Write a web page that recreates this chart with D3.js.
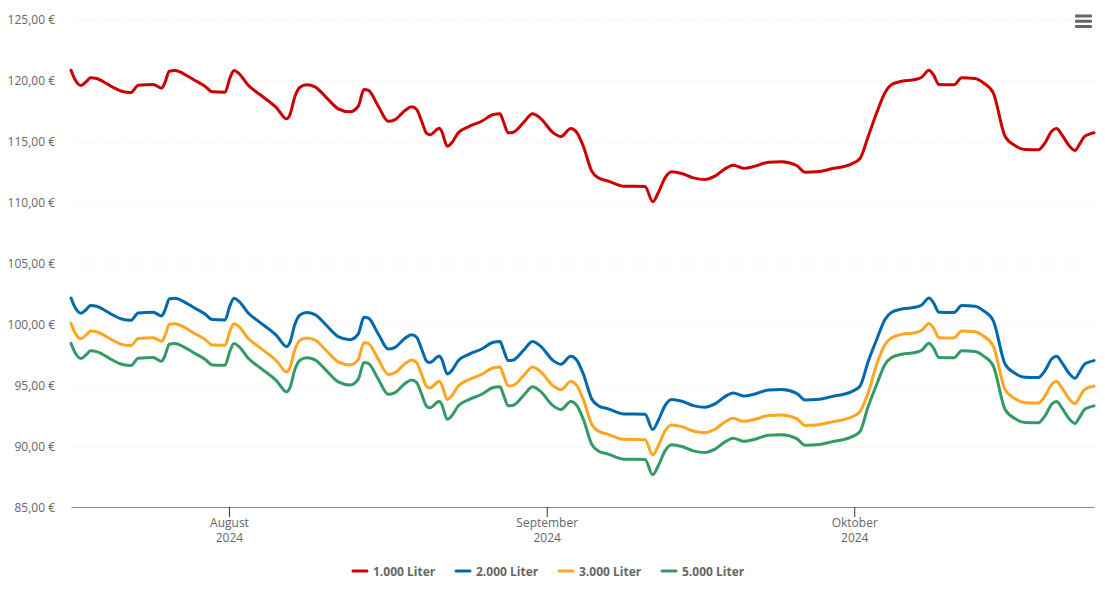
<!DOCTYPE html>
<html>
<head>
<meta charset="utf-8">
<script src="https://cdnjs.cloudflare.com/ajax/libs/d3/7.8.5/d3.min.js"></script>
<style>
  body { margin: 0; background: #fff; }
  text { font-family: "Open Sans", sans-serif; }
</style>
</head>
<body>
<div id="chart"></div>
<script>
// days counted from 1 August 2024
const daysFromAug1 = [-15.41,-15.02,-14.44,-13.88,-13.49,-12.91,-12.29,-11.32,-10.47,-9.56,-8.85,-7.39,-6.57,-6.24,-5.82,-5.27,-4.46,-3.48,-2.34,-1.63,-0.39,0.10,0.49,0.98,1.88,3.02,4.65,5.63,5.95,6.44,6.93,7.58,8.39,9.53,10.66,11.80,12.61,13.17,13.59,14.57,15.54,16.20,17.17,17.82,18.31,18.80,19.29,19.61,20.52,20.75,21.30,21.73,22.37,23.35,24.65,25.79,26.44,26.76,27.25,27.74,28.71,29.63,30.34,31.64,32.39,33.34,33.92,34.57,35.39,36.03,37.01,38.47,40.59,41.34,41.88,42.54,43.19,44.17,45.30,46.44,47.41,48.39,49.20,50.18,51.32,52.62,53.92,55.39,56.20,57.34,58.80,60.75,61.56,62.37,63.19,64.00,64.65,65.63,66.93,67.58,68.29,68.71,69.27,70.73,71.48,72.78,73.59,74.56,75.71,76.68,77.66,78.96,79.61,80.26,80.75,81.24,82.05,82.54,82.96,83.44,83.83,84.39];

const liter1000 = [120.84,120.08,119.59,119.94,120.22,120.16,119.92,119.45,119.12,119.02,119.61,119.67,119.37,119.84,120.76,120.82,120.57,120.08,119.53,119.07,119.04,120.22,120.82,120.57,119.61,118.85,117.76,116.86,117.21,118.71,119.45,119.65,119.48,118.58,117.68,117.43,117.89,119.26,119.20,117.89,116.66,116.80,117.54,117.84,117.62,116.66,115.66,115.55,116.09,115.84,114.61,114.89,115.71,116.20,116.66,117.21,117.27,116.66,115.71,115.76,116.53,117.27,116.94,115.71,115.41,116.07,115.76,114.61,112.57,112.02,111.75,111.34,111.31,110.06,110.80,112.02,112.52,112.38,112.02,111.89,112.16,112.76,113.06,112.81,112.98,113.30,113.34,113.03,112.48,112.52,112.76,113.17,113.61,115.43,117.35,118.99,119.67,119.94,120.08,120.27,120.84,120.49,119.67,119.65,120.22,120.16,119.81,118.99,115.43,114.67,114.34,114.32,114.89,115.84,116.07,115.57,114.57,114.26,114.75,115.39,115.57,115.71];
const liter2000 = [102.17,101.41,100.92,101.27,101.55,101.49,101.25,100.78,100.45,100.35,100.94,101.00,100.70,101.17,102.09,102.15,101.90,101.41,100.86,100.40,100.37,101.55,102.15,101.90,100.94,100.18,99.09,98.19,98.54,100.04,100.78,100.98,100.81,99.91,99.01,98.76,99.22,100.59,100.53,99.22,97.99,98.13,98.87,99.17,98.95,97.99,96.99,96.88,97.42,97.17,95.94,96.22,97.04,97.53,97.99,98.54,98.60,97.99,97.04,97.09,97.86,98.60,98.27,97.04,96.74,97.40,97.09,95.94,93.90,93.35,93.08,92.67,92.64,91.39,92.13,93.35,93.85,93.71,93.35,93.22,93.49,94.09,94.39,94.14,94.31,94.63,94.67,94.36,93.81,93.85,94.09,94.50,94.94,96.99,98.77,100.41,101.00,101.27,101.41,101.60,102.17,101.82,101.00,100.98,101.55,101.49,101.14,100.32,96.76,96.00,95.67,95.65,96.22,97.17,97.40,96.90,95.90,95.59,96.08,96.72,96.90,97.04];
const liter3000 = [100.09,99.33,98.84,99.19,99.47,99.41,99.17,98.70,98.37,98.27,98.86,98.92,98.62,99.09,100.01,100.07,99.82,99.33,98.78,98.32,98.29,99.47,100.07,99.82,98.86,98.10,97.01,96.11,96.46,97.96,98.70,98.90,98.73,97.83,96.93,96.68,97.14,98.51,98.45,97.14,95.91,96.05,96.79,97.09,96.87,95.91,94.91,94.80,95.34,95.09,93.86,94.14,94.96,95.45,95.91,96.46,96.52,95.91,94.96,95.01,95.78,96.52,96.19,94.96,94.66,95.32,95.01,93.86,91.82,91.27,91.00,90.59,90.56,89.31,90.05,91.27,91.77,91.63,91.27,91.14,91.41,92.01,92.31,92.06,92.23,92.55,92.59,92.28,91.73,91.77,92.01,92.42,92.86,94.43,96.72,98.36,98.92,99.19,99.33,99.52,100.09,99.74,98.92,98.90,99.47,99.41,99.06,98.24,94.68,93.92,93.59,93.57,94.14,95.09,95.32,94.82,93.82,93.51,94.00,94.64,94.82,94.96];
const liter5000 = [98.46,97.70,97.21,97.56,97.84,97.78,97.54,97.07,96.74,96.64,97.23,97.29,96.99,97.46,98.38,98.44,98.19,97.70,97.15,96.69,96.66,97.84,98.44,98.19,97.23,96.47,95.38,94.48,94.83,96.33,97.07,97.27,97.10,96.20,95.30,95.05,95.51,96.88,96.82,95.51,94.28,94.42,95.16,95.46,95.24,94.28,93.28,93.17,93.71,93.46,92.23,92.51,93.33,93.82,94.28,94.83,94.89,94.28,93.33,93.38,94.15,94.89,94.56,93.33,93.03,93.69,93.38,92.23,90.19,89.64,89.37,88.96,88.93,87.68,88.42,89.64,90.14,90.00,89.64,89.51,89.78,90.38,90.68,90.43,90.60,90.92,90.96,90.65,90.10,90.14,90.38,90.79,91.23,93.30,95.08,96.72,97.29,97.56,97.70,97.89,98.46,98.11,97.29,97.27,97.84,97.78,97.43,96.61,93.05,92.29,91.96,91.94,92.51,93.46,93.69,93.19,92.19,91.88,92.37,93.01,93.19,93.33];

const seriesNames = ["1.000 Liter", "2.000 Liter", "3.000 Liter", "5.000 Liter"];
const seriesValues = [liter1000, liter2000, liter3000, liter5000];
const seriesColors = ["#cc0000", "#0069ab", "#ffa51f", "#339966"];

const yTicks = [85, 90, 95, 100, 105, 110, 115, 120, 125];
const xTickDates = [new Date(Date.UTC(2024, 7, 1)), new Date(Date.UTC(2024, 8, 1)), new Date(Date.UTC(2024, 9, 1))];
const xTickLabels = ["August", "September", "Oktober"];
const xTickYear = "2024";

const dates = daysFromAug1.map(d => new Date(Date.UTC(2024, 7, 1) + d * 86400000));

const width = 1105, height = 602;
const plotLeft = 71, plotRight = 1094, plotTop = 19.5, plotBottom = 507.5;

const svg = d3.select("#chart").append("svg")
    .attr("width", width)
    .attr("height", height)
    .style("display", "block");

const x = d3.scaleUtc().domain([dates[0], dates[dates.length - 1]]).range([plotLeft, plotRight]);
const y = d3.scaleLinear().domain([85, 125]).range([plotBottom, plotTop]);

const deLocale = d3.formatLocale({ decimal: ",", thousands: ".", grouping: [3], currency: ["", " €"] });
const fmt = deLocale.format(".2f");

// y axis, the ticks double as the dotted grid
const yAxis = svg.append("g")
    .attr("transform", `translate(${plotLeft},0)`)
    .call(d3.axisLeft(y).tickValues(yTicks).tickFormat(d => fmt(d) + " €").tickSize(-(plotRight - plotLeft)).tickPadding(16));
yAxis.select(".domain").remove();
yAxis.selectAll("line")
    .attr("stroke", "#e6e6e6")
    .attr("stroke-dasharray", "1,2");
yAxis.selectAll("text")
    .attr("fill", "#666666")
    .attr("font-size", 12)
    .attr("font-family", "'Open Sans', sans-serif");

// x axis
const xAxis = svg.append("g")
    .attr("transform", `translate(0,${plotBottom - 0.5})`)
    .call(d3.axisBottom(x).tickValues(xTickDates).tickFormat("").tickSize(10).tickSizeOuter(0));
xAxis.select(".domain").attr("stroke", "#8a8a8a").attr("stroke-width", 1);
xAxis.selectAll(".tick line").attr("stroke", "#333333");
xAxis.selectAll(".tick").each(function (d, i) {
    const t = d3.select(this).select("text")
        .attr("fill", "#666666")
        .attr("font-size", 12)
        .attr("font-family", "'Open Sans', sans-serif")
        .attr("y", 0)
        .attr("dy", 0);
    t.append("tspan").attr("x", 0).attr("y", 20).text(xTickLabels[i]);
    t.append("tspan").attr("x", 0).attr("y", 35).text(xTickYear);
});

const line = d3.line()
    .x((d, i) => x(dates[i]))
    .y(d => y(d))
    .curve(d3.curveMonotoneX);

svg.selectAll("path.series")
    .data(seriesValues)
    .enter()
    .append("path")
    .attr("class", "series")
    .attr("d", line)
    .attr("fill", "none")
    .attr("stroke", (d, i) => seriesColors[i])
    .attr("stroke-width", 3)
    .attr("stroke-linejoin", "round")
    .attr("stroke-linecap", "round");

// legend
const legend = svg.selectAll("g.legend")
    .data(seriesNames)
    .enter()
    .append("g")
    .attr("class", "legend")
    .attr("transform", (d, i) => `translate(${352 + i * 103},571)`);
legend.append("line")
    .attr("x1", 1).attr("x2", 15)
    .attr("stroke", (d, i) => seriesColors[i])
    .attr("stroke-width", 3)
    .attr("stroke-linecap", "round");
legend.append("text")
    .attr("x", 21)
    .attr("y", 4.5)
    .attr("fill", "#666666")
    .attr("font-size", 12)
    .attr("font-weight", 700)
    .text(d => d);

// menu button
svg.selectAll("rect.menu")
    .data([16, 21.3, 26.6])
    .enter()
    .append("rect")
    .attr("class", "menu")
    .attr("x", 1075).attr("y", d => d - 1.5)
    .attr("width", 17).attr("height", 3)
    .attr("rx", 1)
    .attr("fill", "#666666");
</script>
</body>
</html>
